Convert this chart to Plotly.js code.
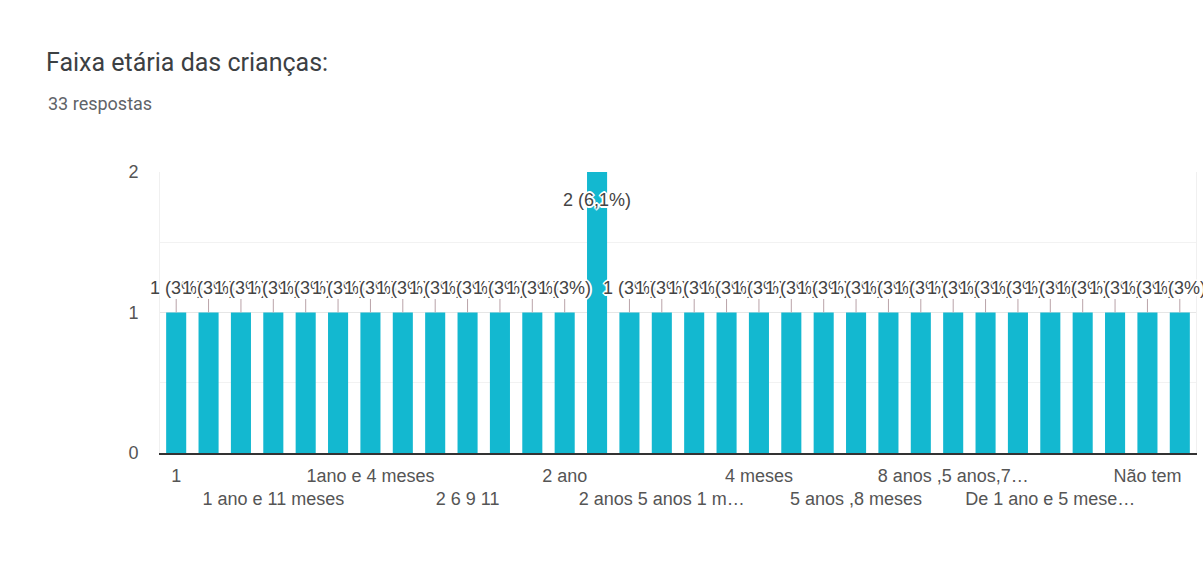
<!DOCTYPE html>
<html>
<head>
<meta charset="utf-8">
<script src="https://cdn.plot.ly/plotly-3.0.1.min.js"></script>
<style>
  html, body { margin: 0; padding: 0; background: #fff; }
  #chart { width: 1203px; height: 562px; }
</style>
</head>
<body>
<div id="chart"></div>
<script>
// Respostas por faixa etária (ordem alfabética das respostas)
const categorias = [
  "1", "1 ano", "1 ano e 10 meses", "1 ano e 11 meses", "1 ano e 2 meses", "1 ano e 6 meses",
  "1ano e 4 meses", "10 anos", "11 anos", "2 6 9 11", "2 a 5 anos", "2 aninhos",
  "2 ano", "2 anos", "2 anos 3 anos", "2 anos 5 anos 1 m…", "3 anos", "3 anos e 6 meses",
  "4 meses", "4 anos e 2 anos", "5 anos", "5 anos ,8 meses", "6 anos", "7 anos",
  "8 anos ,5 anos,7…", "8 meses", "9 anos", "De 1 ano e 5 mese…", "Entre 3 e 6 anos", "Filhos de 4 e 7",
  "Não tem", "Sem filhos"
];
const respostas = [
  1, 1, 1, 1, 1, 1, 1, 1, 1, 1, 1, 1, 1, 2, 1, 1,
  1, 1, 1, 1, 1, 1, 1, 1, 1, 1, 1, 1, 1, 1, 1, 1
];
const rotuloPasso = 3;           // um rótulo a cada 3 categorias
const eixoY = [0, 1, 2];

const total = respostas.reduce((a, b) => a + b, 0);
const W = 1203, H = 562;
const margem = { l: 160, r: 7, t: 172, b: 109, pad: 0 };
const larguraPlot = W - margem.l - margem.r;
const fonteGrafico = "Liberation Sans, Arial, sans-serif";

function pct(v) {
  const p = Math.round(v / total * 1000) / 10;
  return (Number.isInteger(p) ? String(p) : p.toFixed(1).replace(".", ",")) + "%";
}

const yMax = eixoY[eixoY.length - 1];
// contorno branco em volta do texto dos rótulos
const halo = "2px 0 0 #fff, -2px 0 0 #fff, 0 2px 0 #fff, 0 -2px 0 #fff, 1px 1px 0 #fff, -1px -1px 0 #fff, 1px -1px 0 #fff, -1px 1px 0 #fff";

// Rótulos de valor sobre as barras (posição pelo índice da categoria)
const anotacoes = respostas.map((v, i) => {
  const dentro = v >= yMax;
  const base = {
    x: i, y: v, xref: "x", yref: "y",
    text: v + " (" + pct(v) + ")",
    font: { family: fonteGrafico, size: 18, color: "#444", shadow: halo },
  };
  if (dentro) {
    return Object.assign(base, { showarrow: false, yshift: -28, yanchor: "middle" });
  }
  return Object.assign(base, {
    showarrow: true, arrowhead: 0, arrowwidth: 1, arrowcolor: "#b9a3a8",
    ax: 0, ay: -25, standoff: 0
  });
});

// Subtítulo com o total de respostas
anotacoes.push({
  xref: "paper", yref: "paper",
  x: (46 - margem.l) / larguraPlot, y: 1 + (margem.t - 103) / (H - margem.t - margem.b),
  xanchor: "left", yanchor: "middle", showarrow: false,
  text: total + " respostas",
  font: { family: "Roboto, sans-serif", size: 18, color: "#5f6368" }
});

const tickvals = categorias.filter((c, i) => i % rotuloPasso === 0);
const ticktext = tickvals.map((c, k) => (k % 2 === 1 ? "<br>" : "") + c);

const trace = {
  type: "bar",
  x: categorias,
  y: respostas,
  marker: { color: "#13b8d0" },
  hoverinfo: "x+y"
};

const layout = {
  width: W, height: H,
  margin: margem,
  paper_bgcolor: "#fff", plot_bgcolor: "#fff",
  showlegend: false,
  bargap: 0.38,
  title: {
    text: "Faixa etária das crianças:",
    xref: "container", yref: "container",
    x: 46 / W, xanchor: "left",
    y: 1 - 62 / H, yanchor: "middle",
    font: { family: "Roboto, sans-serif", size: 25, color: "#3c4043" }
  },
  xaxis: {
    type: "category",
    categoryorder: "array", categoryarray: categorias,
    range: [-0.5, categorias.length - 0.5],
    tickmode: "array", tickvals: tickvals, ticktext: ticktext,
    tickangle: 0,
    showgrid: false, zeroline: false,
    showline: true, linecolor: "#333", linewidth: 2,
    ticks: "", ticklabelstandoff: 5,
    tickfont: { family: fonteGrafico, size: 18, color: "#555" },
    fixedrange: true
  },
  yaxis: {
    range: [0, yMax],
    tickmode: "array", tickvals: eixoY,
    showgrid: true, gridcolor: "#e6e6e6", gridwidth: 1,
    minor: { dtick: 0.5, showgrid: true, gridcolor: "#f2f2f2" },
    zeroline: false,
    showline: true, linecolor: "#f0f0f0", mirror: true,
    ticks: "", ticklabelstandoff: 17,
    tickfont: { family: fonteGrafico, size: 18, color: "#555" },
    fixedrange: true
  },
  annotations: anotacoes
};

Plotly.newPlot("chart", [trace], layout, { displayModeBar: false, staticPlot: true });
</script>
</body>
</html>
